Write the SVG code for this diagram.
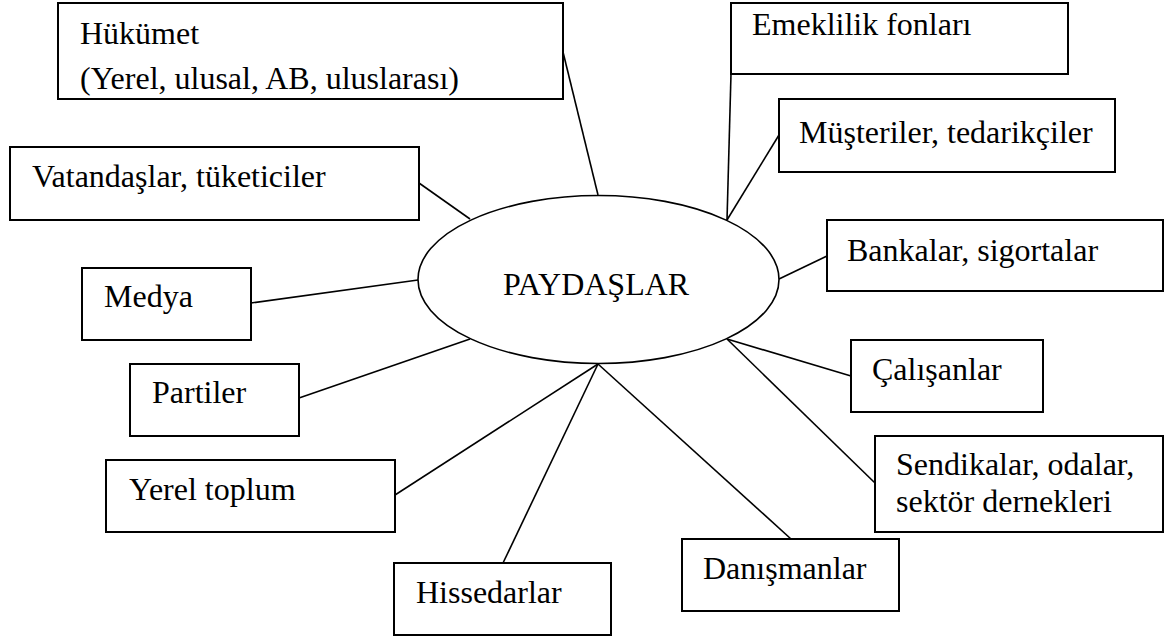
<svg xmlns="http://www.w3.org/2000/svg" width="1172" height="636" viewBox="0 0 1172 636">
  <style>
    .box { fill: #ffffff; stroke: #000000; stroke-width: 2; }
    .hub { fill: #ffffff; stroke: #000000; stroke-width: 1.6; }
    text { font-family: 'Times New Roman', 'Liberation Serif', Tinos, 'DejaVu Serif', serif; font-size: 32px; fill: #000000; }
    #connectors line { stroke: #000000; stroke-width: 1.6; }
  </style>
  <rect width="1172" height="636" fill="#ffffff"/>

  <!-- spokes from the central ellipse to each stakeholder box -->
  <g id="connectors">
    <line x1="563" y1="52" x2="598" y2="195"/>
    <line x1="731" y1="74" x2="727" y2="220"/>
    <line x1="779" y1="135" x2="727" y2="220"/>
    <line x1="419" y1="183" x2="470" y2="219"/>
    <line x1="827" y1="256" x2="779" y2="279"/>
    <line x1="251" y1="303" x2="418" y2="280"/>
    <line x1="299" y1="398" x2="470" y2="339"/>
    <line x1="851" y1="376" x2="727" y2="339"/>
    <line x1="875" y1="483" x2="727" y2="339"/>
    <line x1="395" y1="495" x2="598" y2="364"/>
    <line x1="503" y1="563" x2="598" y2="364"/>
    <line x1="791" y1="539" x2="598" y2="364"/>
  </g>

  <g id="paydaslar">
    <ellipse class="hub" cx="598.5" cy="279.5" rx="180.5" ry="84"/>
    <text x="503" y="295">PAYDAŞLAR</text>
  </g>

  <g id="hukumet">
    <rect class="box" x="58" y="3" width="505" height="96"/>
    <text x="80" y="44">Hükümet</text>
    <text x="80" y="89">(Yerel, ulusal, AB, uluslarası)</text>
  </g>

  <g id="emeklilik">
    <rect class="box" x="731" y="3" width="337" height="71"/>
    <text x="752" y="35">Emeklilik fonları</text>
  </g>

  <g id="musteriler">
    <rect class="box" x="779" y="99" width="336" height="73"/>
    <text x="799" y="143">Müşteriler, tedarikçiler</text>
  </g>

  <g id="vatandaslar">
    <rect class="box" x="10" y="147" width="409" height="73"/>
    <text x="32" y="187">Vatandaşlar, tüketiciler</text>
  </g>

  <g id="bankalar">
    <rect class="box" x="827" y="220" width="336" height="71"/>
    <text x="847" y="261">Bankalar, sigortalar</text>
  </g>

  <g id="medya">
    <rect class="box" x="82" y="268" width="169" height="72"/>
    <text x="104" y="307">Medya</text>
  </g>

  <g id="partiler">
    <rect class="box" x="130" y="364" width="169" height="72"/>
    <text x="152" y="403">Partiler</text>
  </g>

  <g id="calisanlar">
    <rect class="box" x="851" y="340" width="192" height="72"/>
    <text x="872" y="380">Çalışanlar</text>
  </g>

  <g id="sendikalar">
    <rect class="box" x="875" y="436" width="288" height="96"/>
    <text x="896" y="475">Sendikalar, odalar,</text>
    <text x="896" y="512">sektör dernekleri</text>
  </g>

  <g id="yerel-toplum">
    <rect class="box" x="106" y="460" width="289" height="72"/>
    <text x="129" y="500">Yerel toplum</text>
  </g>

  <g id="danismanlar">
    <rect class="box" x="682" y="539" width="217" height="72"/>
    <text x="703" y="579">Danışmanlar</text>
  </g>

  <g id="hissedarlar">
    <rect class="box" x="394" y="563" width="217" height="72"/>
    <text x="416" y="603">Hissedarlar</text>
  </g>
</svg>
